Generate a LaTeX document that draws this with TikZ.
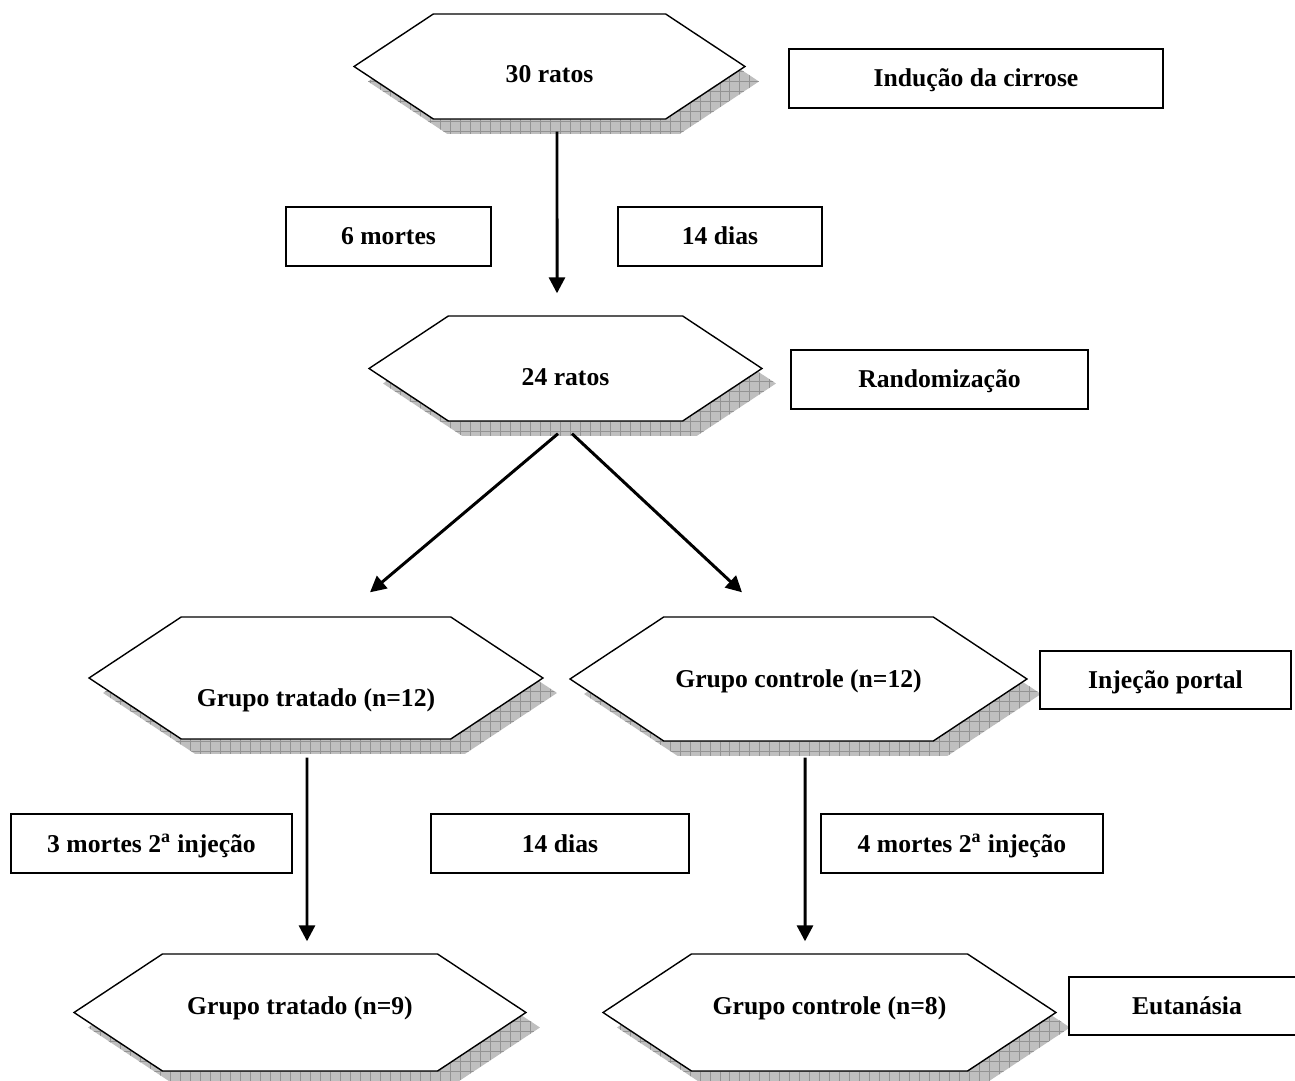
\documentclass[tikz,border=0pt]{standalone}
\usepackage{fontspec}
\setmainfont{Liberation Serif}
\usetikzlibrary{shapes.symbols,shadows,patterns.meta,arrows.meta}

\tikzset{
  hexagono/.style={signal, signal to=west and east, signal pointer angle=67,
    draw, line width=0.8pt, fill=white, inner sep=0pt,
    text height=#1, text depth=0.11cm,
    drop shadow={shadow xshift=0.28cm, shadow yshift=-0.3cm, opacity=1, fill=gray!50,
      postaction={pattern={Hatch[angle=0,distance=0.2cm,line width=0.4pt]}, pattern color=gray!85}}},
  hexagono/.default=0.45cm,
  caixa/.style={draw, line width=1.1pt, minimum height=1.18cm, text height=0.45cm, text depth=0.11cm},
  seta/.style={line width=1.7pt, -{Triangle[length=0.32cm,width=0.32cm]}}
}

\begin{document}
\begin{tikzpicture}[x=0.02cm, y=-0.02cm, font=\bfseries\fontsize{14.6}{17}\selectfont]
    \useasboundingbox (0,0) rectangle (1295,1081);

    % hexagonos
    \node[hexagono=0.75cm, minimum width=7.82cm, minimum height=2.10cm] (h1) at (549.5,66.5) {30 ratos};
    \node[hexagono=0.81cm, minimum width=7.86cm, minimum height=2.10cm] (h2) at (565.5,368.5) {24 ratos};
    \node[hexagono=1.25cm, minimum width=9.08cm, minimum height=2.44cm] (h3l) at (316,678) {Grupo tratado (n=12)};
    \node[hexagono, minimum width=9.14cm, minimum height=2.48cm] (h3r) at (798.5,679) {Grupo controle (n=12)};
    \node[hexagono=0.17cm, minimum width=9.04cm, minimum height=2.34cm] (h4l) at (300,1012.5) {Grupo tratado (n=9)};
    \node[hexagono=0.17cm, minimum width=9.06cm, minimum height=2.34cm] (h4r) at (829.5,1012.5) {Grupo controle (n=8)};

    % caixas
    \node[caixa, minimum width=7.48cm] (b1) at (976,78.5) {Indução da cirrose};
    \node[caixa, minimum width=4.10cm] (b2) at (388.5,236.5) {6 mortes};
    \node[caixa, minimum width=4.08cm] (b3) at (720,236.5) {14 dias};
    \node[caixa, minimum width=5.94cm] (b4) at (939.5,379.5) {Randomização};
    \node[caixa, minimum width=5.02cm, minimum height=1.16cm] (b5) at (1165.5,680) {Injeção portal};
    \node[caixa, minimum width=5.62cm] (b6) at (151.5,843.5) {3 mortes 2\textsuperscript{a} injeção};
    \node[caixa, minimum width=5.16cm] (b7) at (560,843.5) {14 dias};
    \node[caixa, minimum width=5.64cm] (b8) at (962,843.5) {4 mortes 2\textsuperscript{a} injeção};
    \node[caixa, minimum width=4.72cm, minimum height=1.16cm] (b9) at (1187,1006) {Eutanásia};

    % setas
    \draw[seta] ([xshift=0.15cm,yshift=-0.24cm]h1.south) -- ([xshift=-0.17cm,yshift=0.44cm]h2.north);
    \draw[seta] ([xshift=-0.15cm,yshift=-0.24cm]h2.south) -- ([xshift=1.08cm,yshift=0.48cm]h3l.north);
    \draw[seta] ([xshift=0.13cm,yshift=-0.24cm]h2.south) -- ([xshift=-1.13cm,yshift=0.48cm]h3r.north);
    \draw[seta] ([xshift=-0.18cm,yshift=-0.36cm]h3l.south) -- ([xshift=0.14cm,yshift=0.24cm]h4l.north);
    \draw[seta] ([xshift=0.13cm,yshift=-0.32cm]h3r.south) -- ([xshift=-0.49cm,yshift=0.24cm]h4r.north);
\end{tikzpicture}
\end{document}
